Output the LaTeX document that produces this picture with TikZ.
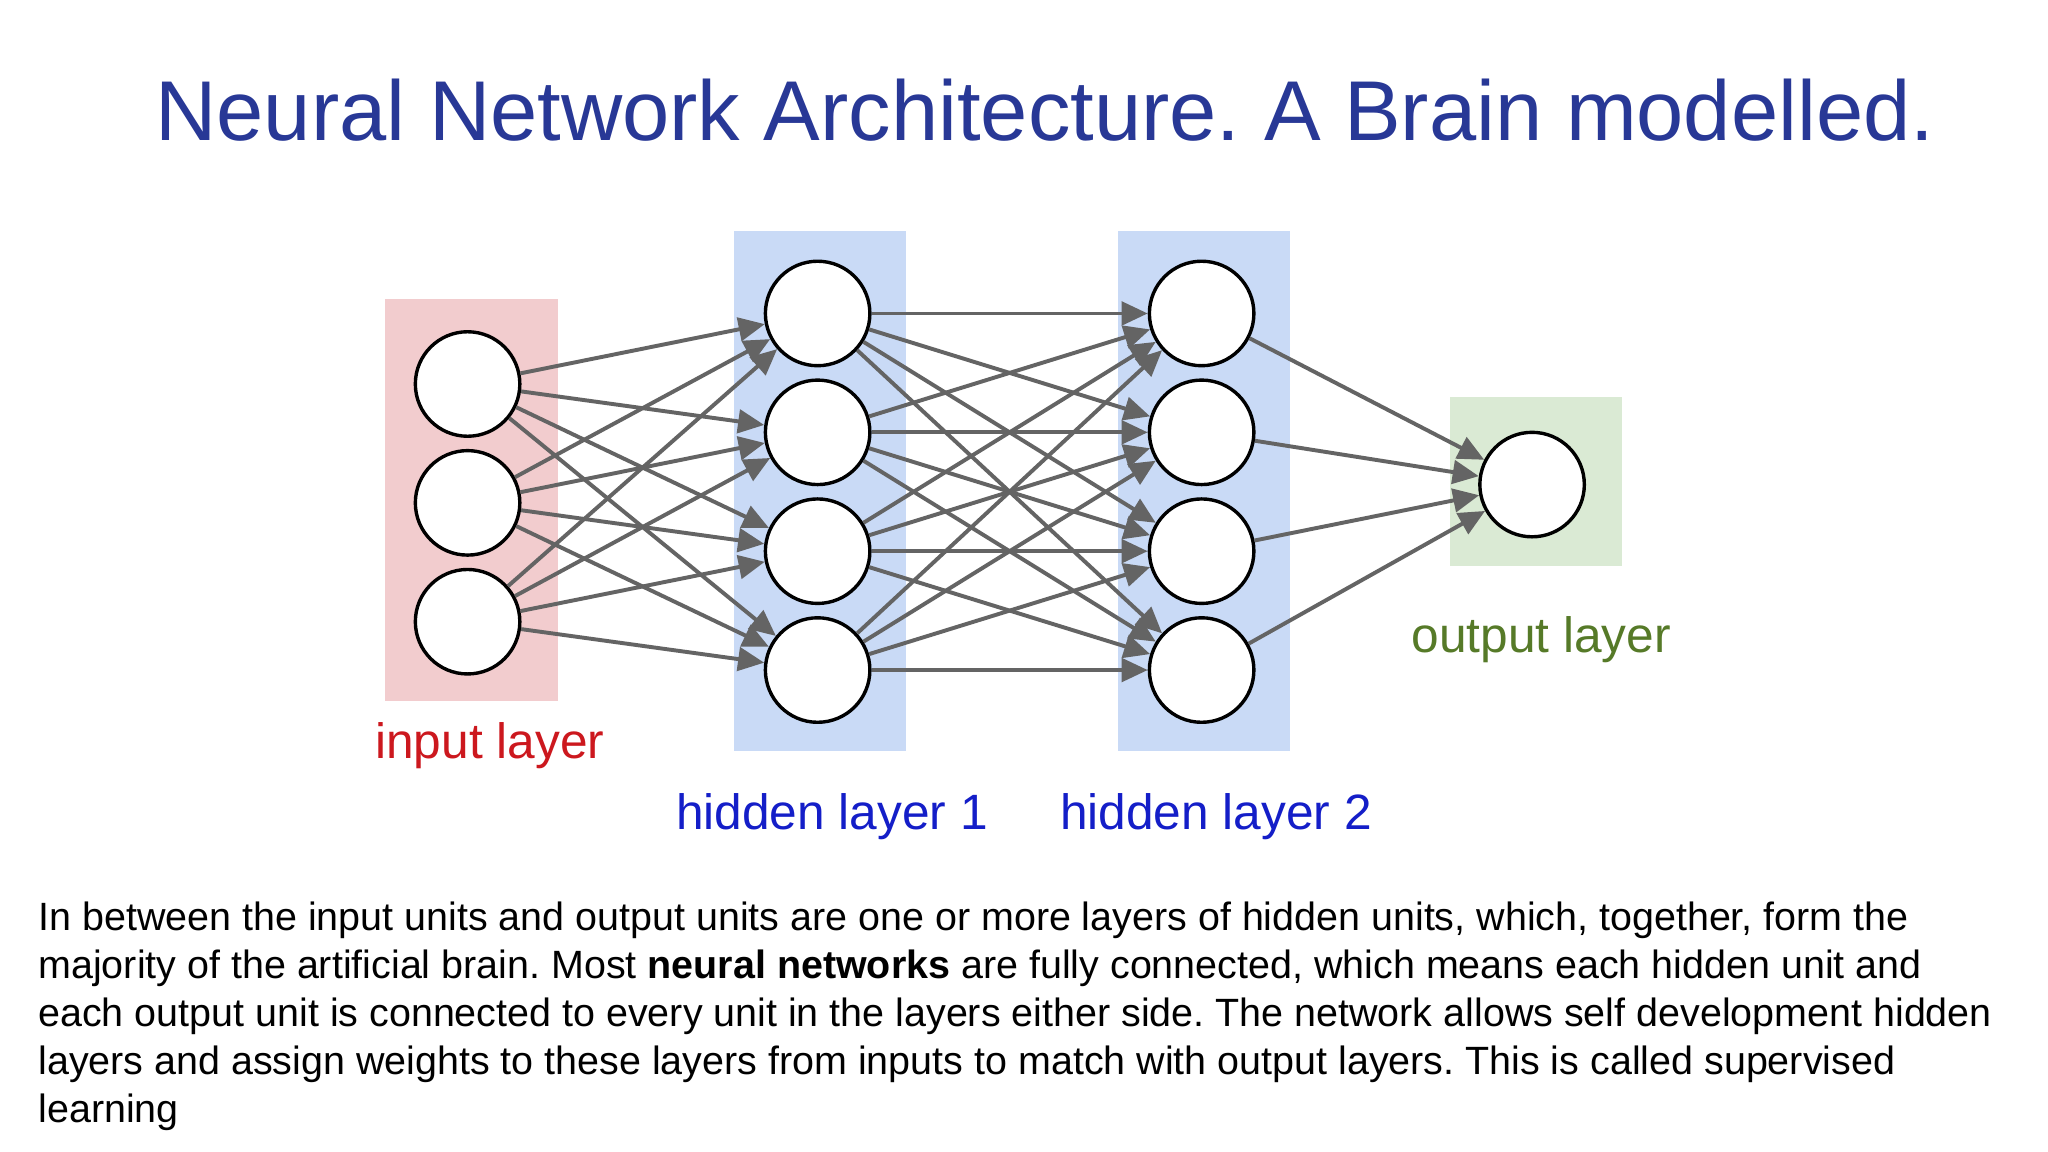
\documentclass[tikz,border=0pt]{standalone}
\usepackage{fontspec}
\setmainfont{Liberation Sans}
\usetikzlibrary{arrows.meta}
\definecolor{titleblue}{RGB}{40,56,150}
\definecolor{pinkbg}{RGB}{242,204,206}
\definecolor{bluebg}{RGB}{201,218,246}
\definecolor{greenbg}{RGB}{218,234,212}
\definecolor{inred}{RGB}{204,24,30}
\definecolor{hidblue}{RGB}{20,30,200}
\definecolor{outgreen}{RGB}{86,122,40}
\definecolor{edgegray}{RGB}{100,100,100}
\begin{document}
\frenchspacing
\begin{tikzpicture}[x=0.5pt,y=-0.5pt,
  neuron/.style={circle,draw=black,line width=1.3pt,fill=white,minimum size=40pt,inner sep=0pt},
  edge/.style={draw=edgegray,line width=1.5pt,-{Triangle[length=10pt,width=9pt]}},
  lbl/.style={font=\fontsize{19}{22}\selectfont}]
\useasboundingbox (0,0) rectangle (1568,882);
\fill[white] (0,0) rectangle (1568,882);
\node[font=\fontsize{32.5}{38}\selectfont,text=titleblue] (title) at (800,84) {Neural Network Architecture. A Brain modelled.};
\fill[pinkbg] (295,229) rectangle (427,537);
\fill[bluebg] (562,177) rectangle (694,575);
\fill[bluebg] (856,177) rectangle (988,575);
\fill[greenbg] (1110,304) rectangle (1242,433);
\foreach \i/\y in {1/294,2/385,3/476} \node[neuron] (i\i) at (358,\y) {};
\foreach \i/\y in {1/240,2/331,3/422,4/513} {
  \node[neuron] (a\i) at (626,\y) {};
  \node[neuron] (b\i) at (920,\y) {};}
\node[neuron] (o) at (1173,371) {};
\foreach \i in {1,2,3} \foreach \j in {1,...,4} \draw[edge] (i\i) -- (a\j);
\foreach \i in {1,...,4} \foreach \j in {1,...,4} \draw[edge] (a\i) -- (b\j);
\foreach \i in {1,...,4} \draw[edge] (b\i) -- (o);
\node[lbl,text=inred] (li) at (375,571) {input layer};
\node[lbl,text=hidblue] (lh1) at (637,625) {hidden layer 1};
\node[lbl,text=hidblue] (lh2) at (931,625) {hidden layer 2};
\node[lbl,text=outgreen] (lo) at (1180,490) {output layer};
\node[anchor=north west,align=left,inner sep=0pt,font=\fontsize{15.1}{18.4}\selectfont] (body) at (29,690) {In between the input units and output units are one or more layers of hidden units, which, together, form the\\
majority of the artificial brain. Most \textbf{neural networks} are fully connected, which means each hidden unit and\\
each output unit is connected to every unit in the layers either side. The network allows self development hidden\\
layers and assign weights to these layers from inputs to match with output layers. This is called supervised\\
learning};
\end{tikzpicture}
\end{document}
